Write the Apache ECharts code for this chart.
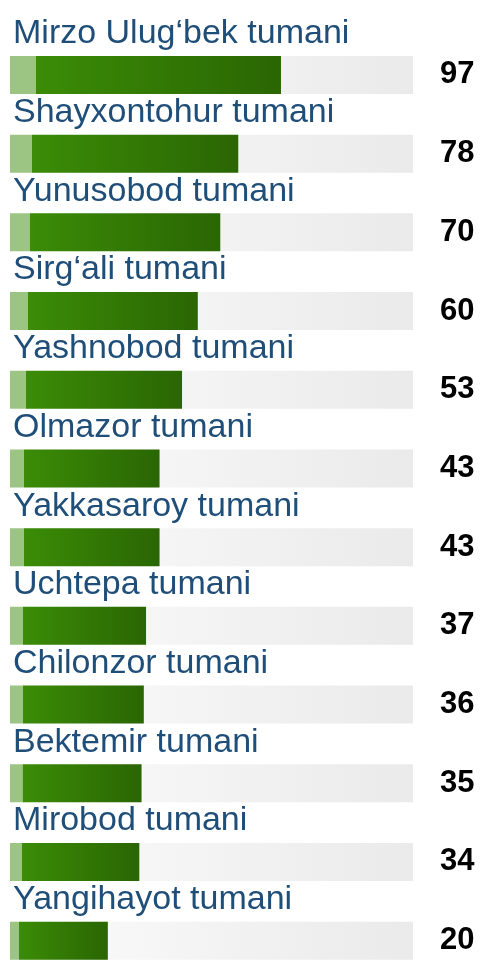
<!DOCTYPE html>
<html>
<head>
<meta charset="utf-8">
<style>
  html, body { margin: 0; padding: 0; background: #fff; }
  #chart { width: 490px; height: 960px; }
</style>
<script src="https://cdn.jsdelivr.net/npm/echarts@6/dist/echarts.min.js"></script>
</head>
<body>
<div id="chart"></div>
<script>
const districts = [
  'Mirzo Ulug‘bek tumani', 'Shayxontohur tumani', 'Yunusobod tumani',
  'Sirg‘ali tumani', 'Yashnobod tumani', 'Olmazor tumani',
  'Yakkasaroy tumani', 'Uchtepa tumani', 'Chilonzor tumani',
  'Bektemir tumani', 'Mirobod tumani', 'Yangihayot tumani'
]
const counts = [97, 78, 70, 60, 53, 43, 43, 37, 36, 35, 34, 20]

const axisMin = -23.5
const axisMax = 155.7

const chart = echarts.init(document.getElementById('chart'))

chart.setOption({
  animation: false,
  grid: { left: 10, top: 35.6, height: 944.4, right: 77, outerBoundsMode: 'none' },
  xAxis: {
    type: 'value',
    min: axisMin,
    max: axisMax,
    startValue: axisMin,
    show: false
  },
  yAxis: {
    type: 'category',
    data: districts,
    inverse: true,
    show: false
  },
  series: [
    {
      // grey track behind each bar, carries the value label
      type: 'bar',
      data: districts.map(() => axisMax),
      barWidth: 38,
      barGap: '-100%',
      silent: true,
      itemStyle: {
        color: new echarts.graphic.LinearGradient(0, 0, 1, 0, [
          { offset: 0, color: '#fcfcfc' },
          { offset: 1, color: '#eaeaea' }
        ])
      },
      label: {
        show: true,
        position: 'right',
        distance: 27,
        formatter: p => counts[p.dataIndex],
        fontFamily: 'Liberation Sans',
        fontWeight: 'bold',
        fontSize: 31,
        color: '#000'
      },
      z: 1
    },
    {
      type: 'bar',
      data: counts,
      barWidth: 38,
      itemStyle: {
        color: new echarts.graphic.LinearGradient(0, 0, 1, 0, [
          { offset: 0, color: '#9cc583' },
          { offset: 0.095, color: '#9cc583' },
          { offset: 0.0951, color: '#3b8c07' },
          { offset: 1, color: '#2a6603' }
        ])
      },
      label: {
        show: true,
        position: [3, -5],
        verticalAlign: 'bottom',
        formatter: p => districts[p.dataIndex],
        fontFamily: 'Liberation Sans',
        fontSize: 34,
        color: '#1f4e79'
      },
      z: 2
    }
  ]
})
</script>
</body>
</html>
